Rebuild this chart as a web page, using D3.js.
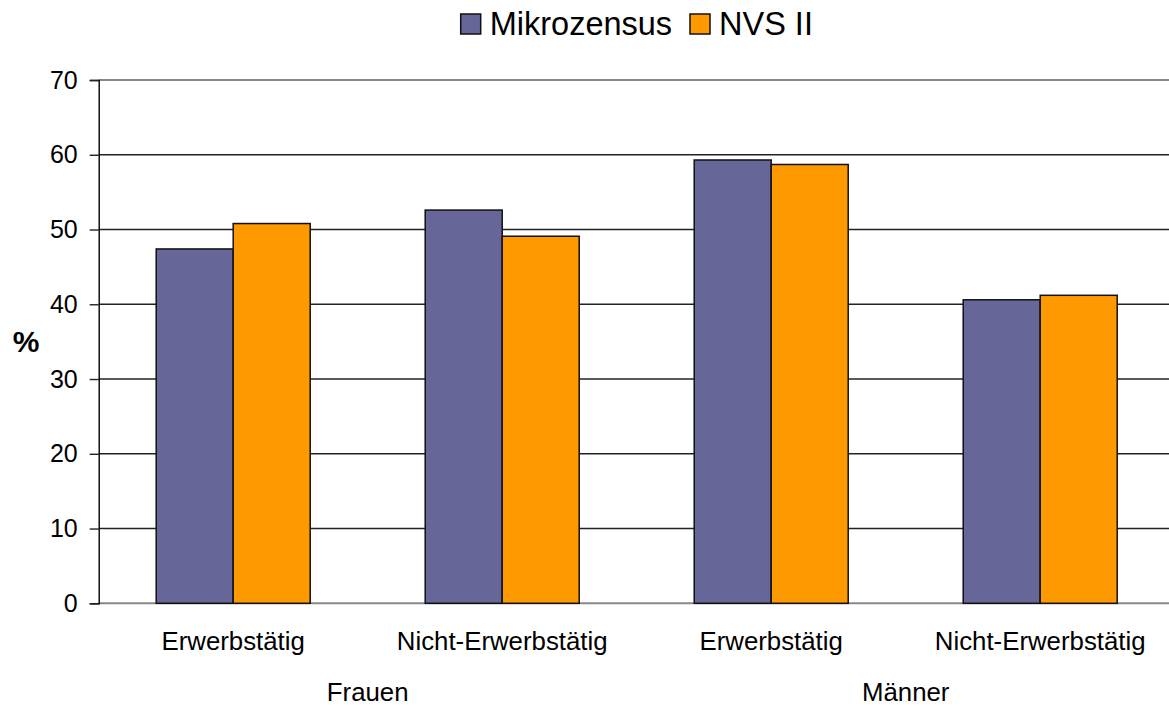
<!DOCTYPE html>
<html>
<head>
<meta charset="utf-8">
<script src="https://cdn.jsdelivr.net/npm/d3@7"></script>
<style>
  body { margin: 0; background: #fff; }
  text { font-family: "Liberation Sans", Arial, sans-serif; fill: #000; }
</style>
</head>
<body>
<div id="chart"></div>
<script>
// data
var categories = ["Erwerbstätig", "Nicht-Erwerbstätig", "Erwerbstätig", "Nicht-Erwerbstätig"];
var groups = ["Frauen", "Männer"];
var series = ["Mikrozensus", "NVS II"];
var mikrozensus = [47.4, 52.6, 59.3, 40.6];
var nvs = [50.8, 49.1, 58.7, 41.2];
var yTicks = [0, 10, 20, 30, 40, 50, 60, 70];
var colors = ["#666699", "#FF9900"];

var W = 1169, H = 707;
var plotL = 98.7, plotR = 98.7 + 4 * 269, plotT = 80, plotB = 603.3;

var svg = d3.select("#chart").append("svg").attr("width", W).attr("height", H);

var y = d3.scaleLinear().domain([0, 70]).range([plotB, plotT]);
var x = d3.scaleBand().domain(d3.range(4)).range([plotL, plotR])
  .paddingInner(115 / 269).paddingOuter(115 / 269 / 2);
var xs = d3.scaleBand().domain(d3.range(2)).range([0, x.bandwidth()]);

// gridlines
svg.append("g").selectAll("line").data(yTicks).enter().append("line")
  .attr("x1", plotL).attr("x2", plotR)
  .attr("y1", function(d) { return y(d); }).attr("y2", function(d) { return y(d); })
  .attr("stroke", function(d) { return (d == 70 || d == 0) ? "#888" : "#222"; })
  .attr("stroke-width", function(d) { return (d == 70 || d == 0) ? 2 : 1.4; });

// y axis
var yAxis = svg.append("g").attr("transform", "translate(" + plotL + ",0)")
  .call(d3.axisLeft(y).tickValues(yTicks).tickSize(9).tickPadding(12));
yAxis.select(".domain").attr("stroke", "#000").attr("stroke-width", 1.4);
yAxis.selectAll(".tick line").attr("stroke", "#222").attr("stroke-width", 1.4);
yAxis.selectAll(".tick text").style("font-size", "25px").style("font-family", "Liberation Sans, Arial, sans-serif").attr("fill", "#000");

svg.append("text").attr("x", 26).attr("y", 352).attr("text-anchor", "middle")
  .style("font-size", "30px").style("font-weight", "bold").text("%");

// bars
var vals = [mikrozensus, nvs];
series.forEach(function(s, si) {
  svg.append("g").selectAll("rect").data(vals[si]).enter().append("rect")
    .attr("x", function(d, i) { return x(i) + xs(si); })
    .attr("y", function(d) { return y(d); })
    .attr("width", xs.bandwidth())
    .attr("height", function(d) { return y(0) - y(d); })
    .attr("fill", colors[si])
    .attr("stroke", "#111").attr("stroke-width", 1.5);
});

// category labels
svg.append("g").selectAll("text").data(categories).enter().append("text")
  .attr("x", function(d, i) { return x(i) + x.bandwidth() / 2; })
  .attr("y", 650).attr("text-anchor", "middle").style("font-size", "25.8px")
  .text(function(d) { return d; });

svg.append("g").selectAll("text").data(groups).enter().append("text")
  .attr("x", function(d, i) { return (x(2 * i) + x(2 * i + 1) + x.bandwidth()) / 2; })
  .attr("y", 701).attr("text-anchor", "middle").style("font-size", "25.8px")
  .text(function(d) { return d; });

// legend
var legX = [460.7, 690];
series.forEach(function(s, i) {
  svg.append("rect").attr("x", legX[i]).attr("y", 14).attr("width", 20).attr("height", 20)
    .attr("fill", colors[i]).attr("stroke", "#111").attr("stroke-width", 1.5);
  svg.append("text").attr("x", legX[i] + 29).attr("y", 34.5).style("font-size", "32.5px").text(s);
});
</script>
</body>
</html>
